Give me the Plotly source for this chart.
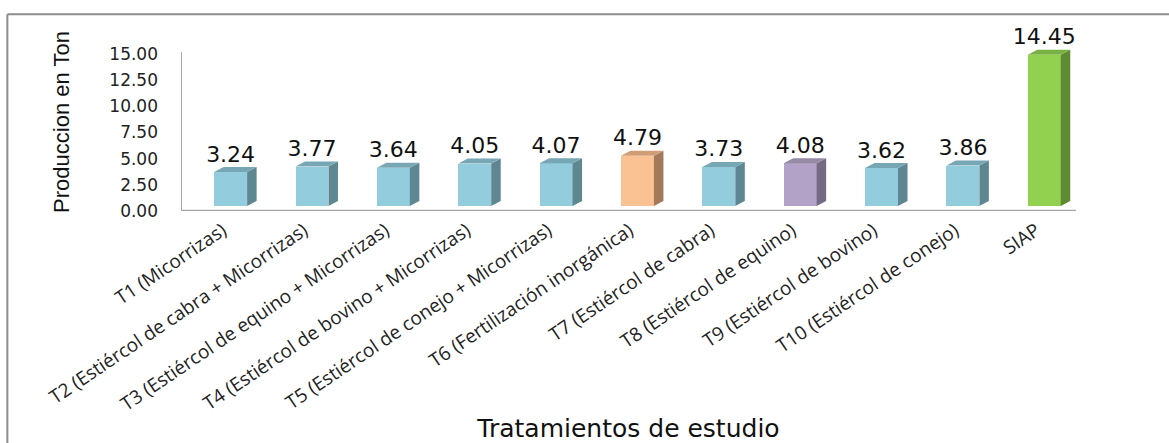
import plotly.graph_objects as go

categories = [
    "T1 (Micorrizas)",
    "T2 (Estiércol de cabra + Micorrizas)",
    "T3 (Estiércol de equino + Micorrizas)",
    "T4 (Estiércol de bovino + Micorrizas)",
    "T5 (Estiércol de conejo + Micorrizas)",
    "T6 (Fertilización inorgánica)",
    "T7 (Estiércol de cabra)",
    "T8 (Estiércol de equino)",
    "T9 (Estiércol de bovino)",
    "T10 (Estiércol de conejo)",
    "SIAP",
]
values = [3.24, 3.77, 3.64, 4.05, 4.07, 4.79, 3.73, 4.08, 3.62, 3.86, 14.45]
labels = ["3.24", "3.77", "3.64", "4.05", "4.07", "4.79", "3.73", "4.08", "3.62", "3.86", "14.45"]
y_ticks = [0, 2.5, 5, 7.5, 10, 12.5, 15]

# colours per bar: (front, side, top)
BLUE = ("#93cddd", "#5f8791", "#77a7b5")
ORANGE = ("#fac193", "#a27a5b", "#d09d74")
PURPLE = ("#b3a2c8", "#756a84", "#958aa6")
GREEN = ("#92d050", "#5f8a34", "#79b042")
face_colors = [BLUE, BLUE, BLUE, BLUE, BLUE, ORANGE, BLUE, PURPLE, BLUE, BLUE, GREEN]

# 3D look parameters (in axis units)
shift = 0.11     # front face offset from category centre
bw = 0.405       # front face width
dx = 0.117       # depth offset to the right
dy = 0.48        # depth offset upwards
base = 0.48      # front face starts above floor

fig = go.Figure()
xs = [i + shift for i in range(len(values))]

fig.add_trace(go.Bar(
    x=xs, y=values, base=[base] * len(values), width=bw,
    marker=dict(color=[c[0] for c in face_colors], line=dict(width=0)),
    hoverinfo="skip", showlegend=False,
))

for x, v, c in zip(xs, values, face_colors):
    x0, x1 = x - bw / 2, x + bw / 2
    y0, y1 = base, base + v
    # side face
    fig.add_trace(go.Scatter(
        x=[x1, x1 + dx, x1 + dx, x1, x1], y=[y0, y0 + dy, y1 + dy, y1, y0],
        mode="lines", fill="toself", fillcolor=c[1], line=dict(width=0),
        hoverinfo="skip", showlegend=False,
    ))
    # top face
    fig.add_trace(go.Scatter(
        x=[x0, x1, x1 + dx, x0 + dx, x0], y=[y1, y1, y1 + dy, y1 + dy, y1],
        mode="lines", fill="toself", fillcolor=c[2], line=dict(width=0),
        hoverinfo="skip", showlegend=False,
    ))

fig.add_trace(go.Scatter(
    x=xs, y=[base + v + dy for v in values], text=labels,
    mode="text", textposition="top center",
    textfont=dict(family="DejaVu Sans", size=22, color="#111111"),
    hoverinfo="skip", showlegend=False, cliponaxis=False,
))

n = len(values)
fig.update_layout(
    width=1169, height=443,
    margin=dict(l=181, r=93, t=33, b=232, autoexpand=False),
    paper_bgcolor="white", plot_bgcolor="white",
    bargap=0,
    xaxis=dict(
        range=[-0.5, n - 0.5], tickvals=[x - 0.1 for x in xs], ticktext=categories,
        tickangle=-34, showgrid=False, zeroline=False, showline=False,
        ticks="", ticklabelstandoff=4,
        tickfont=dict(family="Open Sans", size=19, color="#222222"),
        title=dict(text="Tratamientos de estudio",
                   font=dict(family="DejaVu Sans", size=25, color="#111111"),
                   standoff=10),
        fixedrange=True, automargin=False,
    ),
    yaxis=dict(
        range=[0, 17], tickvals=y_ticks, ticktext=[f"{t:.2f}" for t in y_ticks],
        showgrid=False, zeroline=False, showline=False, ticks="",
        ticklabelstandoff=22,
        tickfont=dict(family="DejaVu Sans", size=17, color="#222222"),
        title=dict(text="Produccion en Ton",
                   font=dict(family="Liberation Sans", size=22, color="#111111"),
                   standoff=33),
        fixedrange=True, automargin=False,
    ),
    shapes=[
        # axis lines
        dict(type="line", xref="x", yref="y", x0=-0.5, x1=-0.5, y0=0, y1=15.16,
             line=dict(color="#a6a6a6", width=2)),
        dict(type="line", xref="x", yref="y", x0=-0.5, x1=n - 0.5, y0=0, y1=0,
             line=dict(color="#a6a6a6", width=2.5)),
        # chart frame
        dict(type="line", xref="paper", yref="paper", x0=-0.194, x1=-0.194, y0=-1.4, y1=1.105,
             line=dict(color="#8c8c8c", width=2)),
        dict(type="line", xref="paper", yref="paper", x0=-0.194, x1=1.2, y0=1.105, y1=1.105,
             line=dict(color="#8c8c8c", width=2)),
    ],
)

fig.write_html("out.html", config={"displayModeBar": False},
               post_script="document.body.style.margin='0';")
